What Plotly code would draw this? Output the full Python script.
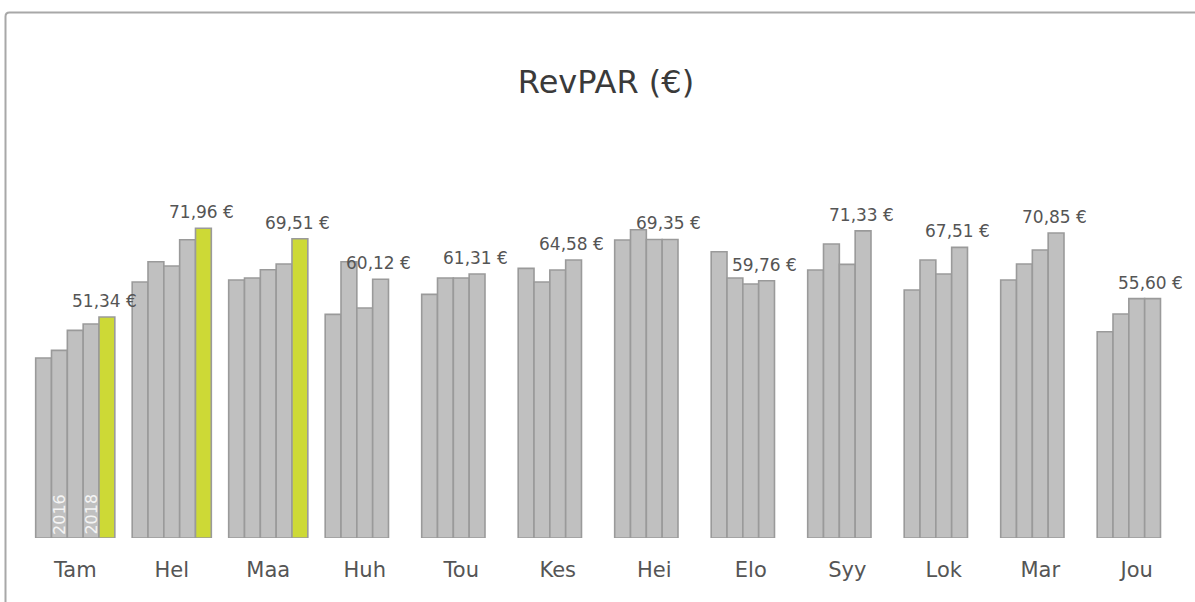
import plotly.graph_objects as go

months = ["Tam", "Hel", "Maa", "Huh", "Tou", "Kes", "Hei", "Elo", "Syy", "Lok", "Mar", "Jou"]
years = ["2015", "2016", "2017", "2018", "2019"]
v2015 = [41.81, 59.47, 59.93, 51.94, 56.59, 62.63, 69.22, 66.50, 62.25, 57.61, 59.93, 47.92]
v2016 = [43.58, 64.18, 60.40, 64.18, 60.40, 59.47, 71.61, 60.40, 68.29, 64.58, 63.65, 52.03]
v2017 = [48.22, 63.18, 62.32, 53.43, 60.40, 62.25, 69.35, 59.00, 63.55, 61.32, 66.90, 55.60]
v2018 = [49.71, 69.29, 63.65, 60.12, 61.31, 64.58, 69.35, 59.76, 71.33, 67.51, 70.85, 55.60]
v2019 = [51.34, 71.96, 69.51, None, None, None, None, None, None, None, None, None]
series = [v2015, v2016, v2017, v2018, v2019]
year_labels = ["2016", "2018"]

GREY = "#c0c0c0"
GREEN = "#cdd936"
EDGE = "#9a9a9a"
BARGAP = 0.18
NB = len(series)

fig = go.Figure()
for yr, vals in zip(years, series):
    fig.add_trace(go.Bar(
        x=list(range(len(months))), y=vals, name=yr,
        marker=dict(color=GREEN if yr == years[-1] else GREY,
                    line=dict(color=EDGE, width=1.6)),
        hoverinfo="skip", showlegend=False,
    ))

w = (1 - BARGAP) / NB


def offset(k):
    return (k - (NB - 1) / 2) * w


annotations = []
# value labels above the last available bar of each month
for i in range(len(months)):
    last_k = max(k for k, s in enumerate(series) if s[i] is not None)
    val = series[last_k][i]
    txt = f"{val:.2f}".replace(".", ",") + " €"
    annotations.append(dict(
        x=i + offset(last_k), y=val, xref="x", yref="y", text=txt,
        showarrow=False, yanchor="bottom", xanchor="center", yshift=4, xshift=-2,
        font=dict(family="DejaVu Sans", size=17, color="#555555"),
    ))
# year labels inside the first group
for yl in year_labels:
    k = years.index(yl)
    annotations.append(dict(
        x=0 + offset(k), y=0, xref="x", yref="y", text=yl, textangle=-90,
        showarrow=False, yanchor="bottom", xanchor="center", yshift=1,
        font=dict(family="DejaVu Sans", size=16, color="#f4f4f4"),
    ))

# outer panel border (left + top edges with rounded corner)
L, T, W, H = 27, 130, 1158, 408
px = lambda p: (p - L) / W
py = lambda p: (T + H - p) / H
x0, y0, r = 5.5, 12.5, 4
path = (f"M {px(x0)},{py(700)} L {px(x0)},{py(y0 + r)} "
        f"Q {px(x0)},{py(y0)} {px(x0 + r)},{py(y0)} L {px(1300)},{py(y0)}")

fig.update_layout(
    width=1195, height=602,
    margin=dict(l=L, r=1195 - L - W, t=T, b=602 - T - H),
    barmode="group", bargap=BARGAP, bargroupgap=0,
    plot_bgcolor="white", paper_bgcolor="white",
    title=dict(text="RevPAR (€)", x=0.5, xref="paper", y=1 - 82 / 602, yref="container",
               xanchor="center", yanchor="middle",
               font=dict(family="DejaVu Sans", size=32, color="#3a3a3a")),
    xaxis=dict(tickmode="array", tickvals=list(range(len(months))), ticktext=months,
               range=[-0.5, len(months) - 0.5], showgrid=False, zeroline=False,
               showline=False, ticks="", ticklabelstandoff=17,
               tickfont=dict(family="DejaVu Sans", size=21, color="#555555")),
    yaxis=dict(range=[0, H / 4.305], visible=False),
    annotations=annotations,
    shapes=[dict(type="path", path=path, xref="paper", yref="paper",
                 line=dict(color="#a8a8a8", width=2))],
)

fig.write_html("out.html", config={"displayModeBar": False},
               post_script="document.body.style.margin='0';")
